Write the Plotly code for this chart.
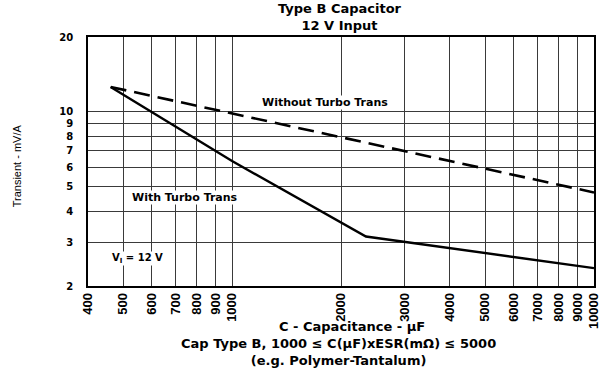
import math
import plotly.graph_objects as go

# Capacitance (uF) and output transient (mV/A)
cap_without = [462, 10000]
trans_without = [12.6, 4.75]

cap_with = [462, 600, 1000, 2344, 10000]
trans_with = [12.6, 10.0, 6.35, 3.16, 2.36]

x_ticks = [400, 500, 600, 700, 800, 900, 1000,
           2000, 3000, 4000, 5000, 6000, 7000, 8000, 9000, 10000]
y_ticks = [2, 3, 4, 5, 6, 7, 8, 9, 10, 20]

WIDE = "DejaVu Sans, Verdana, sans-serif"
NARROW = "Liberation Sans Narrow, Arial Narrow, Liberation Sans, sans-serif"

# plot-area pixel frame
L, R, T, B = 88, 596, 37, 286

fig = go.Figure()
fig.add_trace(go.Scatter(x=cap_without, y=trans_without, mode="lines",
                         line=dict(color="black", width=2.6, dash="16px,8px"),
                         showlegend=False, hoverinfo="skip"))
fig.add_trace(go.Scatter(x=cap_with, y=trans_with, mode="lines",
                         line=dict(color="black", width=2.4),
                         showlegend=False, hoverinfo="skip"))


def lab(text, x, y, size=11):
    fig.add_annotation(x=math.log10(x), y=math.log10(y), xref="x", yref="y",
                       text=text, showarrow=False, bgcolor="white",
                       font=dict(family=WIDE, size=size, color="black"),
                       borderpad=0)


lab("<b>Without Turbo Trans</b>", 1810, 10.96)
lab("<b>With Turbo Trans</b>", 740, 4.52)
lab("<b>V<sub>I</sub> = 12 V</b>", 549, 2.57, size=10)


def page_text(text, xpx, ypx, size, family=WIDE, angle=0):
    fig.add_annotation(x=(xpx - L) / (R - L), y=1, xref="paper", yref="paper",
                       xanchor="center", yanchor="middle",
                       yshift=T - ypx, textangle=angle, showarrow=False,
                       text=text, borderpad=0,
                       font=dict(family=family, size=size, color="black"))


page_text("<b>Type B Capacitor<br>12 V Input</b>", 341, 17, 13)
page_text("<b>C - Capacitance - \u00b5F</b>", 353, 326, 13)
page_text("<b>Cap Type B, 1000 \u2264 C(\u00b5F)xESR(m\u03a9) \u2264 5000"
          "<br>(e.g. Polymer-Tantalum)</b>", 339, 352, 13)
page_text("Transient - mV/A", 17, 166, 11, family=NARROW, angle=-90)

fig.update_xaxes(type="log", range=[math.log10(400), math.log10(10000)],
                 tickvals=x_ticks, ticktext=[f"<b>{v}</b>" for v in x_ticks],
                 tickangle=-90, tickfont=dict(family=NARROW, size=13, color="black"),
                 showgrid=True, gridcolor="#3a3a3a", gridwidth=1,
                 showline=True, linecolor="black", linewidth=1.5, mirror=True,
                 ticks="", zeroline=False)
fig.update_yaxes(type="log", range=[math.log10(2), math.log10(20)],
                 tickvals=y_ticks, ticktext=[f"<b>{v}</b>" for v in y_ticks],
                 tickfont=dict(family=WIDE, size=10, color="black"),
                 showgrid=True, gridcolor="#3a3a3a", gridwidth=1,
                 showline=True, linecolor="black", linewidth=1.5, mirror=True,
                 ticks="", ticklabelstandoff=11, zeroline=False)

fig.update_layout(width=613, height=372,
                  margin=dict(l=L, r=613 - R, t=T, b=372 - B),
                  paper_bgcolor="white", plot_bgcolor="white",
                  showlegend=False)

fig.write_html("out.html")
